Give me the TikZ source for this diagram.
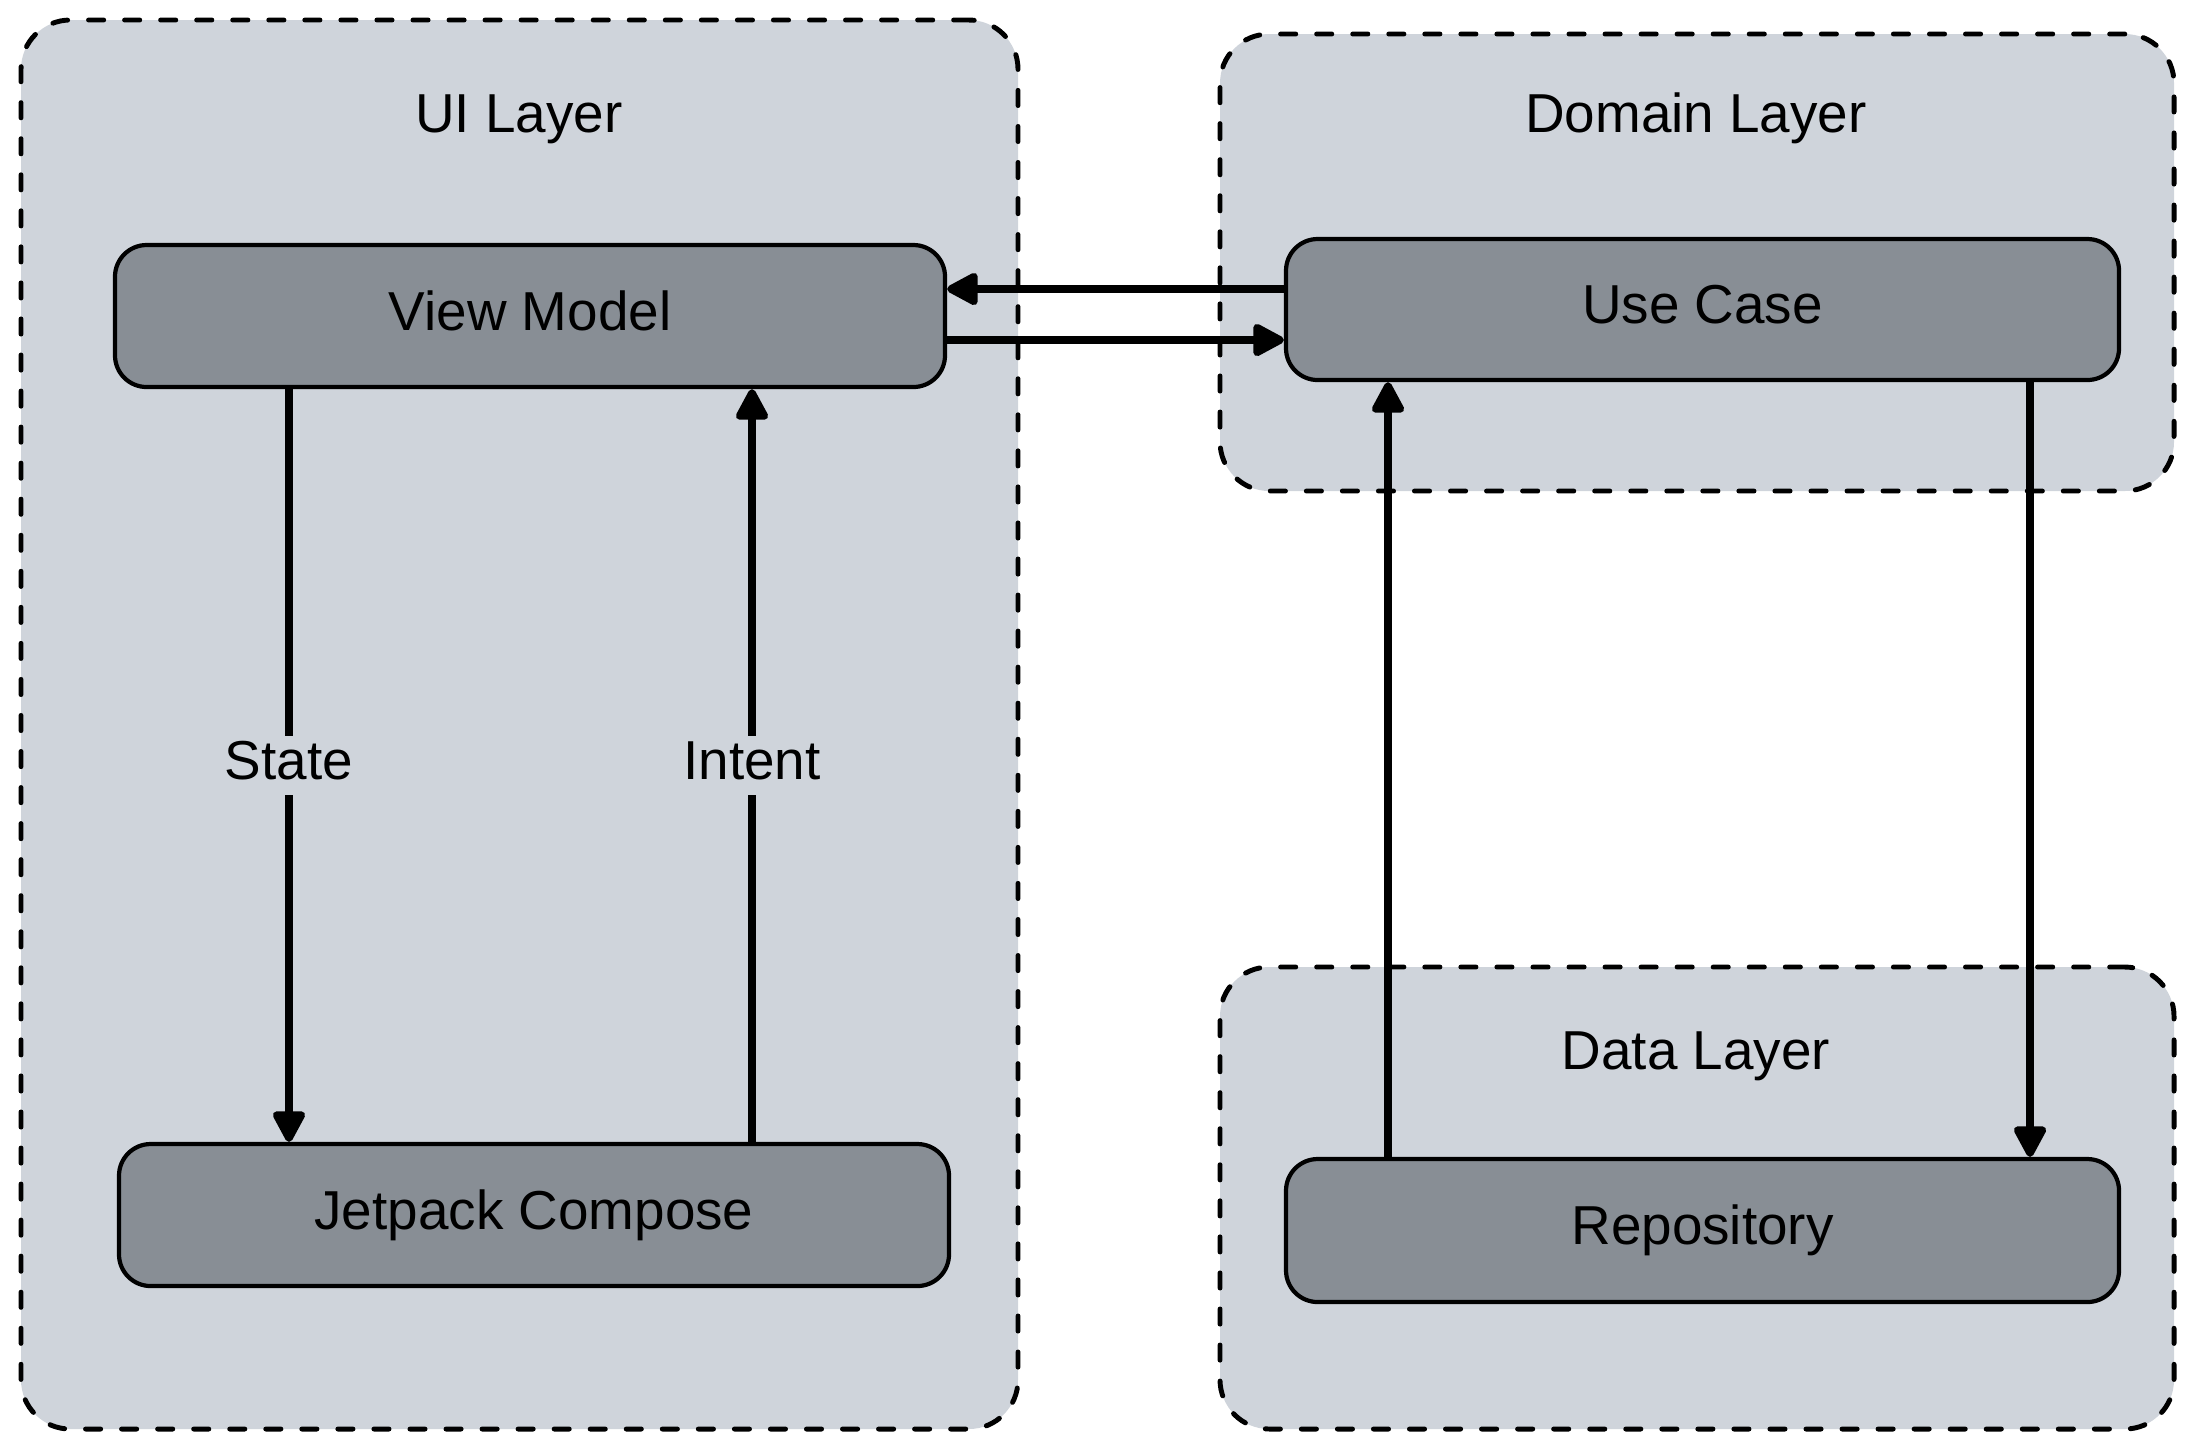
\documentclass[tikz,border=0pt]{standalone}
\usepackage{fontspec}
\setmainfont{Liberation Sans}
\usetikzlibrary{arrows.meta,calc}

\definecolor{layerfill}{RGB}{207,212,219}
\definecolor{boxfill}{RGB}{136,142,149}

\begin{document}
\begin{tikzpicture}[x=0.01cm,y=-0.01cm,
  every node/.style={font=\fontsize{15.6pt}{18pt}\selectfont,text height=11pt,text depth=3pt},
  layer/.style={draw=black,fill=layerfill,line cap=round,dash pattern=on 4.3pt off 5.95pt,
    line width=1.4pt,rounded corners=14pt,inner sep=0pt},
  compbox/.style={draw=black,fill=boxfill,line width=1.2pt,rounded corners=9pt,
    inner sep=0pt,align=center},
  title/.style={inner sep=0pt},
  flow/.style={line width=2.1pt,-{Triangle[length=10pt,width=10pt,round]}},
  flowlabel/.style={midway,fill=layerfill,inner xsep=2pt,inner ysep=0pt,minimum height=0.59cm}
]
\useasboundingbox (0,0) rectangle (2192,1450);

% layers
\node[layer,minimum width=997*0.01cm,minimum height=1409*0.01cm] (ui) at (519.5,724.5) {};
\node[layer,minimum width=954*0.01cm,minimum height=457*0.01cm] (domain) at (1697,262.5) {};
\node[layer,minimum width=954*0.01cm,minimum height=462*0.01cm] (data) at (1697,1198) {};

\node[title] (uiT) at (519,118) {UI Layer};
\node[title] (domainT) at (1696,118) {Domain Layer};
\node[title] (dataT) at (1696,1055) {Data Layer};

% components
\node[compbox,minimum width=830*0.01cm,minimum height=142*0.01cm] (vm) at (530,316) {View Model};
\node[compbox,minimum width=830*0.01cm,minimum height=142*0.01cm] (jc) at (534,1215) {Jetpack Compose};
\node[compbox,minimum width=833*0.01cm,minimum height=141*0.01cm] (uc) at (1702.5,309.5) {Use Case};
\node[compbox,minimum width=833*0.01cm,minimum height=143*0.01cm] (repo) at (1702.5,1230.5) {Repository};

% connector tracks
\coordinate (hUp) at (0,289);
\coordinate (hDown) at (0,340);
\coordinate (xState) at (289,0);
\coordinate (xIntent) at (752,0);
\coordinate (xRepo) at (1388,0);
\coordinate (xUse) at (2030,0);

\draw[flow] (uc.west |- hUp) -- (vm.east |- hUp);
\draw[flow] (vm.east |- hDown) -- (uc.west |- hDown);

\draw[flow] (vm.south -| xState) -- (jc.north -| xState)
  node[flowlabel] (stateL) {State};
\draw[flow] (jc.north -| xIntent) -- (vm.south -| xIntent)
  node[flowlabel] (intentL) {Intent};

\draw[flow] (repo.north -| xRepo) -- (uc.south -| xRepo);
\draw[flow] (uc.south -| xUse) -- (repo.north -| xUse);
\end{tikzpicture}
\end{document}
